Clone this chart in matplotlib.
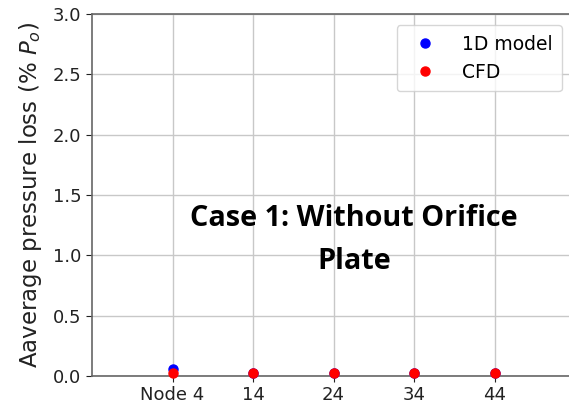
import matplotlib.pyplot as plt

# data
nodes = [4, 14, 24, 34, 44]
tick_labels = ['Node 4', '14', '24', '34', '44']
model_1d = [0.06, 0.025, 0.025, 0.025, 0.025]
cfd = [0.025, 0.025, 0.025, 0.025, 0.025]

fig = plt.figure(figsize=(5.69, 4.05), dpi=100)
ax = fig.add_axes([92 / 569, 29 / 405, 483 / 569, 362 / 405])

ax.plot(nodes, model_1d, 'o', color='blue', ms=6.5, label='1D model', clip_on=False, zorder=3)
ax.plot(nodes, cfd, 'o', color='red', ms=6.5, label='CFD', clip_on=False, zorder=3)

ax.set_xlim(-6, 54)
ax.set_ylim(0, 3.0)
ax.set_xticks(nodes)
ax.set_xticklabels(tick_labels)
ax.set_yticks([0, 0.5, 1.0, 1.5, 2.0, 2.5, 3.0])
ax.tick_params(labelsize=13, colors='#222222', length=4)
ax.grid(True, color='#c8c8c8', lw=1)
ax.set_axisbelow(True)
for s in ax.spines.values():
    s.set_color('#666666')
    s.set_linewidth(1.2)

ax.set_ylabel('Aaverage pressure loss (% $P_o$)', fontsize=16.5, color='#222222', labelpad=6)

ax.legend(loc='upper right', bbox_to_anchor=(0.993, 0.995), fontsize=13.5,
          handletextpad=1.0, borderpad=0.5, labelspacing=0.5)

fig.text(354 / 569, 1 - 240 / 405, 'Case 1: Without Orifice\nPlate', ha='center', va='center',
         fontsize=20.8, fontweight='bold', family='Open Sans', linespacing=1.6)

fig.savefig('out.png', dpi=100)
